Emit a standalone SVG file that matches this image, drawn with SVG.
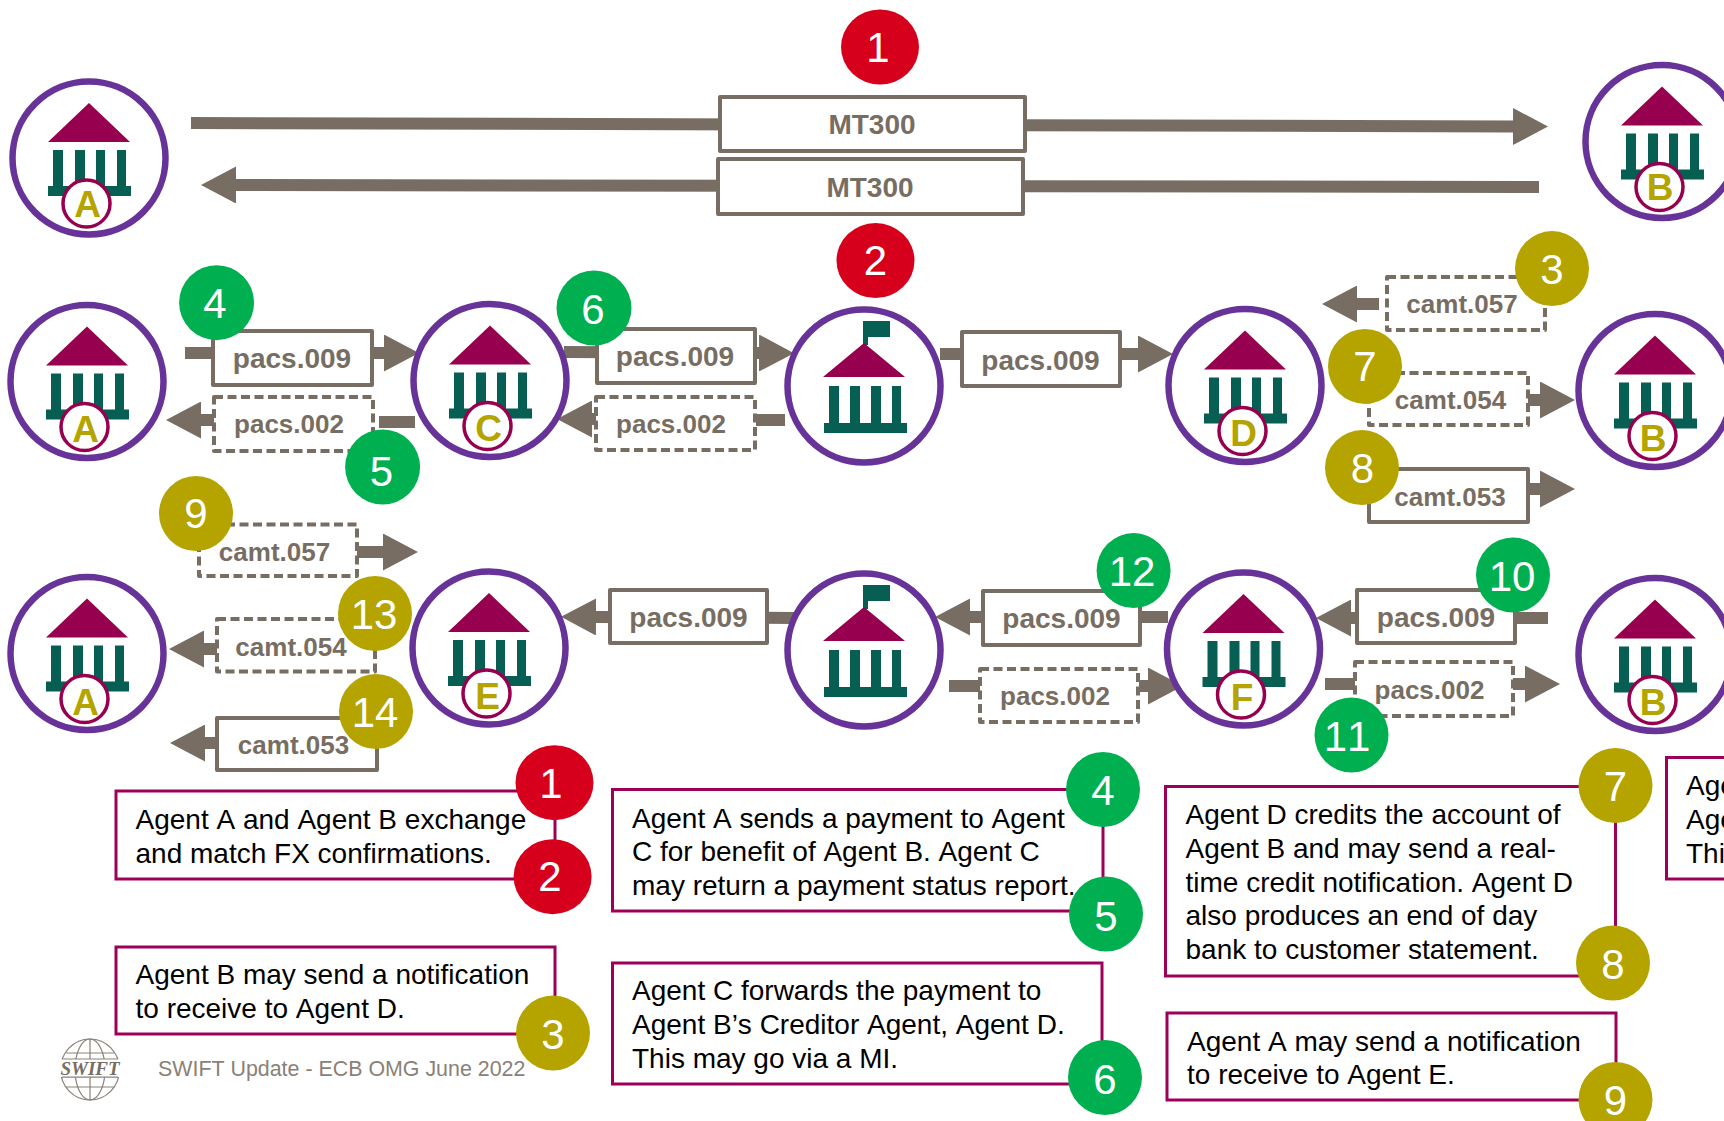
<svg xmlns="http://www.w3.org/2000/svg" xmlns:xlink="http://www.w3.org/1999/xlink" width="1724" height="1121" viewBox="0 0 1724 1121">
<style>
text{font-family:"Liberation Sans",Arial,sans-serif;font-kerning:none}
.ring{fill:#fff;stroke:#673399;stroke-width:6.5}
.roof{fill:#96004f}
.teal{fill:#075f54}
.badge{fill:#fff;stroke:#96004f;stroke-width:3.5}
.let{font-size:37px;font-weight:700;fill:#b5a300;text-anchor:middle}
.conn line{stroke:#776d62;stroke-width:12;fill:none}
.ah{marker-end:url(#head)}
.box{fill:#fff;stroke:#776d62;stroke-width:4;stroke-linejoin:round}
.dash{stroke-dasharray:9 4.5;stroke-width:4}
.m{font-weight:700;fill:#776d62;text-anchor:middle}
.s28{font-size:28px}
.s26{font-size:26px}
.num{font-size:42px;fill:#fff;text-anchor:middle}
.red{fill:#d6001c}
.green{fill:#00b050}
.gold{fill:#b5a300}
.note{fill:#fff;stroke:#9e0059;stroke-width:3}
.t{font-size:28px;fill:#000}
.foot{font-size:21.4px;fill:#8a8178}
.gl{fill:none;stroke:#8a8178;stroke-width:1.2}
</style>
<defs>
<marker id="head" markerUnits="userSpaceOnUse" markerWidth="36" markerHeight="37" refX="0" refY="18.5" orient="auto"><path d="M0 0L35 18.5L0 37z" fill="#776d62"/></marker>
<g id="bankL">
<circle class="ring" r="76.5"/>
<path class="roof" d="M0-55L41-16H-41z"/>
<path class="teal" d="M-36-8h10v36h-10zM-14-8h10v36h-10zM7-8h9v36h-9zM28-8h9v36h-9zM-41 28h83v10h-83z"/>
<circle class="badge" cx="-2.5" cy="45.5" r="23.5"/>
</g>
<g id="bankF">
<circle class="ring" r="76.5"/>
<path class="teal" d="M-1-65h27v16H4v8H-1z"/>
<path class="roof" d="M0-43L41-9H-41z"/>
<path class="teal" d="M-35 0h10v37h-10zM-14 0h10v37h-10zM7 0h10v37H7zM28 0h9v37h-9zM-40 37h83v10h-83z"/>
</g>
</defs>
<rect width="1724" height="1121" fill="#fff"/>
<g id="connectors" class="conn">
<line class="ah" x1="191" y1="123" x2="1513" y2="126.5"/>
<line class="ah" x1="1539" y1="187" x2="236" y2="185"/>
<line class="ah" x1="185" y1="353" x2="384" y2="353"/>
<line class="ah" x1="215" y1="420" x2="201" y2="420"/>
<line x1="379" y1="422" x2="415" y2="422"/>
<line class="ah" x1="564" y1="352" x2="759" y2="353"/>
<line class="ah" x1="597" y1="419" x2="592" y2="419"/>
<line x1="756" y1="420" x2="785" y2="420"/>
<line class="ah" x1="940" y1="354" x2="1138" y2="354"/>
<line class="ah" x1="1379" y1="304" x2="1357" y2="304"/>
<line class="ah" x1="1528" y1="400" x2="1540" y2="400"/>
<line class="ah" x1="1528" y1="489" x2="1540" y2="489"/>
<line class="ah" x1="357" y1="552" x2="383" y2="552"/>
<line class="ah" x1="217" y1="649" x2="204" y2="649"/>
<line class="ah" x1="217" y1="743" x2="205" y2="743"/>
<line class="ah" x1="794" y1="618" x2="596" y2="617"/>
<line class="ah" x1="1168" y1="617" x2="970" y2="617"/>
<line x1="949" y1="686" x2="980" y2="686"/>
<line class="ah" x1="1139" y1="686" x2="1148" y2="686"/>
<line class="ah" x1="1548" y1="618" x2="1351" y2="618"/>
<line x1="1325" y1="684" x2="1355" y2="684"/>
<line class="ah" x1="1513" y1="684" x2="1525" y2="684"/>
</g>
<g id="node-agent-a1"><use xlink:href="#bankL" href="#bankL" x="89" y="158"/><text class="let" x="87.5" y="217">A</text></g>
<g id="node-agent-b1"><use xlink:href="#bankL" href="#bankL" x="1662" y="141.5"/><text class="let" x="1660" y="200">B</text></g>
<g id="node-agent-a2"><use xlink:href="#bankL" href="#bankL" x="87" y="381.5"/><text class="let" x="85.5" y="442">A</text></g>
<g id="node-agent-c"><use xlink:href="#bankL" href="#bankL" x="490" y="380.5"/><text class="let" x="488.5" y="441">C</text></g>
<g id="node-mi-1"><use xlink:href="#bankF" href="#bankF" x="864" y="386"/></g>
<g id="node-agent-d"><use xlink:href="#bankL" href="#bankL" x="1245" y="385.5"/><text class="let" x="1243.5" y="446">D</text></g>
<g id="node-agent-b2"><use xlink:href="#bankL" href="#bankL" x="1655" y="390.5"/><text class="let" x="1653" y="451">B</text></g>
<g id="node-agent-a3"><use xlink:href="#bankL" href="#bankL" x="87" y="653.5"/><text class="let" x="85.5" y="714.5">A</text></g>
<g id="node-agent-e"><use xlink:href="#bankL" href="#bankL" x="489" y="648"/><text class="let" x="487.5" y="709">E</text></g>
<g id="node-mi-2"><use xlink:href="#bankF" href="#bankF" x="864" y="650"/></g>
<g id="node-agent-f"><use xlink:href="#bankL" href="#bankL" x="1243.5" y="649"/><text class="let" x="1242" y="710">F</text></g>
<g id="node-agent-b3"><use xlink:href="#bankL" href="#bankL" x="1655" y="654.5"/><text class="let" x="1653" y="715">B</text></g>

<g id="msg-mt300-top"><rect class="box" x="720" y="97" width="305" height="54"/><text class="m s28" x="872" y="134">MT300</text><ellipse class="red" cx="880" cy="47" rx="39" ry="37.5"/><text class="num" x="878" y="62">1</text></g>
<g id="msg-mt300-bottom"><rect class="box" x="718" y="159" width="305" height="55"/><text class="m s28" x="870" y="196.5">MT300</text><ellipse class="red" cx="875.5" cy="260.6" rx="39" ry="37.5"/><text class="num" x="875.5" y="275">2</text></g>

<g id="msg-pacs009-a"><rect class="box" x="213" y="331" width="159" height="54"/><ellipse class="green" cx="216.6" cy="302.7" rx="37.5" ry="37.5"/><text class="num" x="215" y="318">4</text><text class="m s28" x="292" y="368">pacs.009</text></g>
<g id="msg-pacs002-a"><rect class="box dash" x="214" y="397" width="159" height="54"/><ellipse class="green" cx="382.6" cy="467" rx="37.5" ry="37.5"/><text class="num" x="381.5" y="486">5</text><text class="m s26" x="289" y="432.5">pacs.002</text></g>
<g id="msg-pacs009-b"><rect class="box" x="597" y="329" width="158" height="54"/><ellipse class="green" cx="594" cy="308" rx="37.5" ry="37.5"/><text class="num" x="593" y="324">6</text><text class="m s28" x="675" y="366">pacs.009</text></g>
<g id="msg-pacs002-b"><rect class="box dash" x="596" y="397" width="159" height="53"/><text class="m s26" x="671" y="432.5">pacs.002</text></g>
<g id="msg-pacs009-c"><rect class="box" x="962" y="332" width="158" height="54"/><text class="m s28" x="1040.5" y="369.5">pacs.009</text></g>
<g id="msg-camt057-a"><rect class="box dash" x="1387" y="277" width="158" height="53"/><ellipse class="gold" cx="1552" cy="268.6" rx="37" ry="37.5"/><text class="num" x="1552" y="283.5">3</text><text class="m s26" x="1462" y="313">camt.057</text></g>
<g id="msg-camt054-a"><rect class="box dash" x="1369" y="373" width="159" height="52"/><ellipse class="gold" cx="1365" cy="366.4" rx="37" ry="37.5"/><text class="num" x="1365" y="381">7</text><text class="m s26" x="1450.5" y="408.5">camt.054</text></g>
<g id="msg-camt053-a"><rect class="box" x="1369" y="469" width="159" height="53"/><ellipse class="gold" cx="1362" cy="467.6" rx="37" ry="37.5"/><text class="num" x="1362.5" y="482.5">8</text><text class="m s26" x="1450" y="505.5">camt.053</text></g>

<g id="msg-camt057-b"><rect class="box dash" x="199" y="524.5" width="158" height="51.5"/><ellipse class="gold" cx="196" cy="513.5" rx="37" ry="37.5"/><text class="num" x="196" y="528">9</text><text class="m s26" x="274.5" y="561">camt.057</text></g>
<g id="msg-camt054-b"><rect class="box dash" x="217" y="619" width="158" height="52.5"/><ellipse class="gold" cx="375" cy="613.5" rx="37" ry="37.5"/><text class="num" x="374" y="628.5">13</text><text class="m s26" x="291" y="656">camt.054</text></g>
<g id="msg-camt053-b"><rect class="box" x="217" y="718" width="160" height="52"/><ellipse class="gold" cx="376" cy="711.5" rx="37" ry="37.5"/><text class="num" x="375" y="727">14</text><text class="m s26" x="293.5" y="754">camt.053</text></g>
<g id="msg-pacs009-d"><rect class="box" x="610" y="590" width="157" height="53"/><text class="m s28" x="688.5" y="627">pacs.009</text></g>
<g id="msg-pacs009-e"><rect class="box" x="983" y="591" width="157" height="54"/><ellipse class="green" cx="1133.6" cy="570.6" rx="37" ry="37.5"/><text class="num" x="1132" y="586">12</text><text class="m s28" x="1061.5" y="628">pacs.009</text></g>
<g id="msg-pacs002-c"><rect class="box dash" x="980" y="669" width="158" height="53"/><text class="m s26" x="1055" y="705">pacs.002</text></g>
<g id="msg-pacs009-f"><rect class="box" x="1357" y="590" width="158" height="53"/><ellipse class="green" cx="1513" cy="575" rx="37" ry="37.5"/><text class="num" x="1512" y="591">10</text><text class="m s28" x="1436" y="627">pacs.009</text></g>
<g id="msg-pacs002-d"><rect class="box dash" x="1355" y="662" width="158" height="54"/><ellipse class="green" cx="1351.5" cy="735" rx="37" ry="37.5"/><text class="num" x="1347" y="751">11</text><text class="m s26" x="1429.5" y="698.5">pacs.002</text></g>

<g id="footer">
<ellipse class="gl" cx="90" cy="1069.5" rx="29.5" ry="30.5"/>
<ellipse class="gl" cx="90" cy="1069.5" rx="15" ry="30.5"/>
<path class="gl" d="M90 1039v61M66 1053h48M62 1063h56M62 1077h56M66 1087h48"/>
<rect x="60" y="1059" width="61" height="18" fill="#fff"/>
<path class="gl" d="M62 1059h56M62 1077h56"/>
<text x="90" y="1075" text-anchor="middle" style="font-family:'Liberation Serif',serif;font-style:italic;font-weight:700;font-size:19px;fill:#776d62">SWIFT</text>
<text class="foot" x="158" y="1076">SWIFT Update - ECB OMG June 2022</text>
</g>

<g id="note-1-2"><rect class="note" x="116" y="791" width="439" height="88"/>
<text class="t" x="135.5" y="829">Agent A and Agent B exchange</text><text class="t" x="135.5" y="863">and match FX confirmations.</text>
<ellipse class="red" cx="554.5" cy="782.7" rx="39" ry="37.5"/><text class="num" x="551" y="798">1</text>
<ellipse class="red" cx="552.6" cy="876.7" rx="39" ry="37.5"/><text class="num" x="550" y="891">2</text></g>
<g id="note-3"><rect class="note" x="116" y="947" width="439" height="87"/>
<text class="t" x="135.5" y="984">Agent B may send a notification</text><text class="t" x="135.5" y="1018">to receive to Agent D.</text>
<ellipse class="gold" cx="553" cy="1033" rx="37" ry="37.5"/><text class="num" x="553" y="1049">3</text></g>
<g id="note-4-5"><rect class="note" x="612.5" y="789.5" width="490.5" height="121.5"/>
<text class="t" x="632" y="828">Agent A sends a payment to Agent</text><text class="t" x="632" y="861">C for benefit of Agent B. Agent C</text><text class="t" x="632" y="895">may return a payment status report.</text>
<ellipse class="green" cx="1103" cy="789.5" rx="37" ry="37.5"/><text class="num" x="1103" y="805">4</text>
<ellipse class="green" cx="1106" cy="914" rx="37" ry="37.5"/><text class="num" x="1106" y="931">5</text></g>
<g id="note-6"><rect class="note" x="612.5" y="963" width="489.5" height="121"/>
<text class="t" x="632" y="999.5">Agent C forwards the payment to</text><text class="t" x="632" y="1033.5">Agent B’s Creditor Agent, Agent D.</text><text class="t" x="632" y="1067.5">This may go via a MI.</text>
<ellipse class="green" cx="1105" cy="1077.5" rx="37" ry="37.5"/><text class="num" x="1105" y="1094">6</text></g>
<g id="note-7-8"><rect class="note" x="1165.5" y="786.5" width="450" height="189.5"/>
<text class="t" x="1185.5" y="824">Agent D credits the account of</text><text class="t" x="1185.5" y="858">Agent B and may send a real-</text><text class="t" x="1185.5" y="892">time credit notification. Agent D</text><text class="t" x="1185.5" y="925">also produces an end of day</text><text class="t" x="1185.5" y="959">bank to customer statement.</text>
<ellipse class="gold" cx="1615.5" cy="785.5" rx="37" ry="37.5"/><text class="num" x="1615.5" y="801">7</text>
<ellipse class="gold" cx="1613" cy="963" rx="37" ry="37.5"/><text class="num" x="1613" y="979">8</text></g>
<g id="note-9"><rect class="note" x="1167" y="1013" width="449" height="87"/>
<text class="t" x="1187" y="1050.5">Agent A may send a notification</text><text class="t" x="1187" y="1084">to receive to Agent E.</text>
<ellipse class="gold" cx="1615.5" cy="1099.5" rx="37" ry="37.5"/><text class="num" x="1615.5" y="1115">9</text></g>
<g id="note-10"><rect class="note" x="1666.5" y="757.5" width="100" height="121.5"/>
<text class="t" x="1686" y="795">Age</text><text class="t" x="1686" y="829">Age</text><text class="t" x="1686" y="863">Thi</text></g>
</svg>
